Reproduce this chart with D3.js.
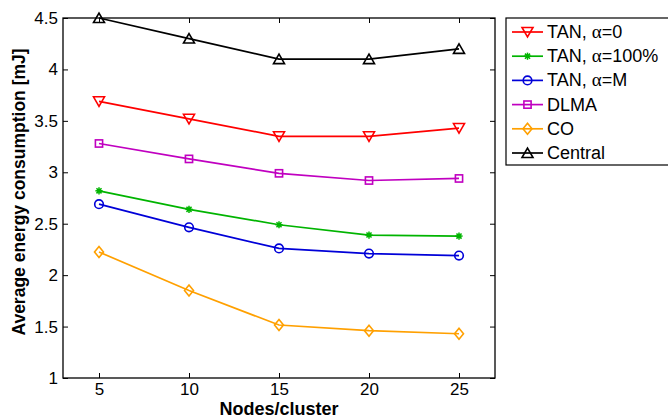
<!DOCTYPE html>
<html><head><meta charset="utf-8">
<script src="https://cdn.jsdelivr.net/npm/d3@7"></script>
<style>body{margin:0;background:#fff}svg{display:block}text{font-family:"Liberation Sans",Arial,sans-serif}</style>
</head><body>
<svg id="c" width="668" height="419"></svg>
<script>
const nodes = [5, 10, 15, 20, 25];
const central = [4.5, 4.3, 4.1, 4.1, 4.2];
const tanAlpha0 = [3.69, 3.52, 3.35, 3.35, 3.43];
const dlma = [3.28, 3.13, 2.99, 2.92, 2.94];
const tanAlpha100 = [2.82, 2.64, 2.49, 2.39, 2.38];
const tanAlphaM = [2.69, 2.465, 2.26, 2.21, 2.19];
const co = [2.225, 1.85, 1.515, 1.46, 1.43];
const yTicks = [1, 1.5, 2, 2.5, 3, 3.5, 4, 4.5];
const xTicks = [5, 10, 15, 20, 25];

const series = [
  {name: ["TAN, ", "α", "=0"], values: tanAlpha0, color: "#ff0000", marker: "tdown"},
  {name: ["TAN, ", "α", "=100%"], values: tanAlpha100, color: "#00b400", marker: "star"},
  {name: ["TAN, ", "α", "=M"], values: tanAlphaM, color: "#0000d8", marker: "circle"},
  {name: ["DLMA"], values: dlma, color: "#c000c0", marker: "square"},
  {name: ["CO"], values: co, color: "#ffa000", marker: "diamond"},
  {name: ["Central"], values: central, color: "#000000", marker: "tup"}
];

const svg = d3.select("#c");
const L = 63, R = 495, T = 18, B = 378;
const x = d3.scaleLinear().domain([3, 27]).range([L, R]);
const y = d3.scaleLinear().domain([1, 4.5]).range([B, T]);

const g = svg.append("g");
const fontSize = 17;
const ax = (axis, tx, ty) => {
  const a = g.append("g").attr("transform", `translate(${tx},${ty})`).call(axis);
  a.select(".domain").remove();
  a.selectAll("line").attr("stroke", "#000").attr("stroke-width", 1);
  a.selectAll("text").attr("font-size", fontSize).attr("fill", "#000").attr("font-family", '"Liberation Sans",Arial,sans-serif');
  return a;
};
ax(d3.axisBottom(x).tickValues(xTicks).tickSize(-5).tickPadding(5).tickFormat(d3.format("d")), 0, B);
ax(d3.axisTop(x).tickValues(xTicks).tickSize(-5).tickFormat(""), 0, T);
ax(d3.axisLeft(y).tickValues(yTicks).tickSize(-5).tickPadding(5).tickFormat(d => d3.format("")(d)), L, 0);
ax(d3.axisRight(y).tickValues(yTicks).tickSize(-5).tickFormat(""), R, 0);
g.append("rect").attr("x", L).attr("y", T).attr("width", R - L).attr("height", B - T)
  .attr("fill", "none").attr("stroke", "#000").attr("stroke-width", 1.3);

const line = d3.line().x((d, i) => x(nodes[i])).y(d => y(d));

function drawMarker(sel, type, color, cx, cy) {
  const gg = sel.append("g").attr("transform", `translate(${cx},${cy})`)
    .attr("fill", "none").attr("stroke", color).attr("stroke-width", 1.6);
  if (type === "tdown") gg.append("path").attr("d", "M-5.5,-4.5L5.5,-4.5L0,5z");
  else if (type === "tup") gg.append("path").attr("d", "M-5.5,4.5L5.5,4.5L0,-5z");
  else if (type === "circle") gg.append("circle").attr("r", 4.3);
  else if (type === "square") gg.append("rect").attr("x", -3.6).attr("y", -3.6).attr("width", 7.2).attr("height", 7.2);
  else if (type === "diamond") gg.append("path").attr("d", "M0,-5.5L4.5,0L0,5.5L-4.5,0z");
  else if (type === "star") {
    gg.attr("stroke-width", 1.5);
    [0, 45, 90, 135].forEach(a => {
      const r = 3.6, t = a * Math.PI / 180;
      gg.append("line").attr("x1", -r * Math.cos(t)).attr("y1", -r * Math.sin(t))
        .attr("x2", r * Math.cos(t)).attr("y2", r * Math.sin(t));
    });
    gg.append("circle").attr("r", 2).attr("fill", color).attr("stroke", "none");
  }
}

series.forEach(s => {
  g.append("path").datum(s.values).attr("d", line).attr("fill", "none")
    .attr("stroke", s.color).attr("stroke-width", 1.7);
  s.values.forEach((v, i) => drawMarker(g, s.marker, s.color, x(nodes[i]), y(v)));
});

// axis labels
svg.append("text").attr("x", (L + R) / 2).attr("y", 415).attr("text-anchor", "middle")
  .attr("font-size", 18).attr("font-weight", "bold").text("Nodes/cluster");
svg.append("text").attr("transform", `translate(25,${(T + B) / 2 - 6}) rotate(-90)`).attr("text-anchor", "middle")
  .attr("font-size", 17.5).attr("font-weight", "bold").text("Average energy consumption [mJ]");

// legend
const lg = svg.append("g");
lg.append("rect").attr("x", 506).attr("y", 18).attr("width", 170).attr("height", 147)
  .attr("fill", "#fff").attr("stroke", "#000").attr("stroke-width", 1.2);
series.forEach((s, i) => {
  const ly = 32 + i * 24.2;
  lg.append("line").attr("x1", 512).attr("x2", 543).attr("y1", ly).attr("y2", ly)
    .attr("stroke", s.color).attr("stroke-width", 1.7);
  drawMarker(lg, s.marker, s.color, 527.5, ly);
  const t = lg.append("text").attr("x", 547).attr("y", ly + 6).attr("font-size", 18).attr("fill", "#000");
  s.name.forEach(part => {
    const ts = t.append("tspan").text(part);
    if (part === "α") ts.attr("font-family", '"Liberation Serif","Times New Roman",serif').attr("font-size", 19);
  });
});
</script>
</body></html>
